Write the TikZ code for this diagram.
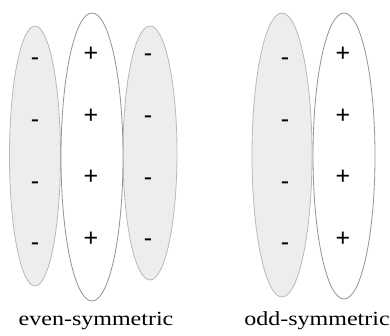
\documentclass[tikz,border=0pt]{standalone}
\usepackage{fontspec}
\setmainfont{Liberation Serif}
\newfontfamily\signfont{Liberation Sans}
\usetikzlibrary{shapes.geometric, positioning}

\begin{document}
\begin{tikzpicture}[
    x=1pt, y=-1pt,
    neglobe/.style={draw=gray!55, fill=gray!14, ellipse, inner sep=0pt, line width=0.8pt},
    poslobe/.style={draw=gray!85, fill=white, ellipse, inner sep=0pt, line width=0.8pt},
    sign/.style={font=\signfont\fontsize{25}{25}\selectfont, inner sep=0pt},
    caption/.style={font=\fontsize{20}{22}\selectfont, inner sep=0pt}
]
\useasboundingbox (0,0) rectangle (390,335);

% even-symmetric
\node[neglobe, minimum width=51pt, minimum height=260pt] (evenL) at (35,156) {};
\node[neglobe, minimum width=54pt, minimum height=254pt] (evenR) at (150,153) {};
\node[poslobe, minimum width=62pt, minimum height=288pt] (evenM) at (92,157) {};

\foreach \y [count=\i] in {59,121,183,244}
    \node[sign] (evenL-\i) at (35,\y+3) {-};
\foreach \y [count=\i] in {52,114,175,237}
    \node[sign] (evenM-\i) at (91,\y+2) {+};
\foreach \y [count=\i] in {55,117,179,240}
    \node[sign] (evenR-\i) at (148,\y+3) {-};

\node[caption] (evenlabel) at (96,321) {\scalebox{1.2}[1]{even-symmetric}};

% odd-symmetric
\node[neglobe, minimum width=60pt, minimum height=284pt] (oddL) at (282,155) {};
\node[poslobe, minimum width=62pt, minimum height=286pt] (oddR) at (344,156) {};

\foreach \y [count=\i] in {59,121,183,244}
    \node[sign] (oddL-\i) at (285,\y+3) {-};
\foreach \y [count=\i] in {52,114,175,237}
    \node[sign] (oddR-\i) at (343,\y+2) {+};

\node[caption] (oddlabel) at (317,321) {\scalebox{1.2}[1]{odd-symmetric}};

\end{tikzpicture}
\end{document}
